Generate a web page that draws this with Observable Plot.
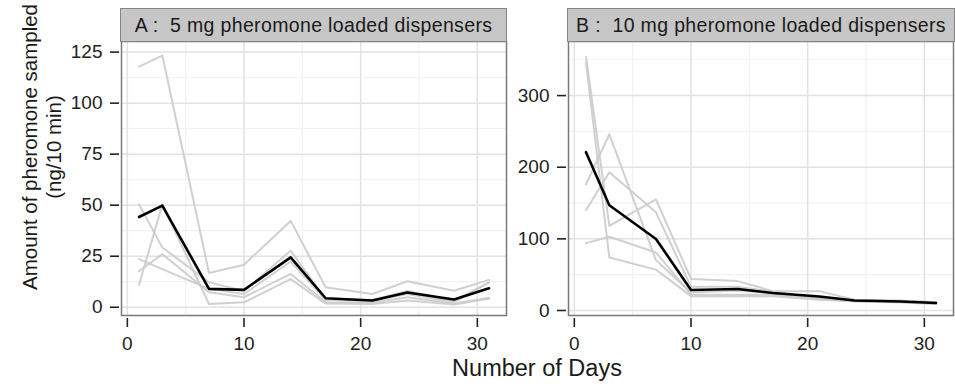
<!DOCTYPE html>
<html><head><meta charset="utf-8">
<script src="https://cdn.jsdelivr.net/npm/d3@7"></script>
<script src="https://cdn.jsdelivr.net/npm/@observablehq/plot@0.6"></script>
<style>
body{margin:0;background:#fff;}
#wrap{position:relative;width:955px;height:386px;overflow:hidden;font-family:"Liberation Sans",Arial,sans-serif;color:#1a1a1a;}
.panel{position:absolute;top:0;}
.strip{position:absolute;top:8px;height:34px;background:#c6c6c6;border:1.5px solid #858585;box-sizing:border-box;display:flex;align-items:center;justify-content:center;font-size:19.5px;letter-spacing:0.35px;color:#1a1a1a;white-space:pre;}
.ytitle{position:absolute;left:42px;top:147px;transform:translate(-50%,-50%) rotate(-90deg);text-align:center;font-size:20.5px;line-height:24px;white-space:nowrap;color:#1a1a1a;}
.xtitle{position:absolute;left:537px;top:368px;transform:translate(-50%,-50%);font-size:23.5px;white-space:nowrap;color:#1a1a1a;}
</style></head>
<body><div id="wrap"></div>
<script>
const days = [1, 3, 7, 10, 14, 17, 21, 24, 28, 31];

// Panel A: 5 mg dispensers (replicates + mean)
const a1 = [117.9, 123.3, 16.8, 20.8, 42.3, 9.8, 6.5, 12.7, 8.1, 13.4];
const a2 = [50.4, 29.3, 12.2, 8.0, 27.7, 4.0, 3.5, 8.0, 3.2, 12.2];
const a3 = [23.6, 18.7, 9.0, 6.5, 22.4, 3.5, 3.0, 6.5, 2.5, 12.0];
const a4 = [17.6, 26.0, 7.3, 4.9, 16.3, 2.5, 2.2, 4.9, 1.8, 4.6];
const a5 = [10.9, 50.4, 1.6, 2.4, 13.8, 1.8, 1.6, 3.3, 1.3, 4.1];
const aMean = [44.2, 49.8, 9.0, 8.5, 24.4, 4.4, 3.3, 7.2, 3.8, 9.3];

// Panel B: 10 mg dispensers (replicates + mean)
const b1 = [354, 118, 155, 44, 41, 27, 27, 15, 14, 12];
const b2 = [346, 74, 57, 20, 20, 20, 15, 13, 11, 9];
const b3 = [176, 246, 70, 25, 28, 24, 18, 14, 13, 11];
const b4 = [140, 193, 137, 33, 33, 26, 17, 14, 12, 10];
const b5 = [94, 103, 81, 22, 22, 22, 16, 13, 12, 10];
const bMean = [221, 147, 99.7, 28.7, 30, 24.5, 19.5, 14, 12.5, 10.5];

const titleA = "A :  5 mg pheromone loaded dispensers";
const titleB = "B :  10 mg pheromone loaded dispensers";
const xTicks = [0, 10, 20, 30];
const xMinor = [5, 15, 25];
const yTicksA = [0, 25, 50, 75, 100, 125];
const yMinorA = [12.5, 37.5, 62.5, 87.5, 112.5];
const yTicksB = [0, 100, 200, 300];
const yMinorB = [50, 150, 250, 350];
const xLabel = "Number of Days";
const yLabel1 = "Amount of pheromone sampled";
const yLabel2 = "(ng/10 min)";

function tidy(reps) {
  const rows = [];
  reps.forEach((arr, r) => arr.forEach((v, i) => rows.push({rep: r, day: days[i], v})));
  return rows;
}
function meanRows(arr) { return arr.map((v, i) => ({day: days[i], v})); }

function panel(opts) {
  return Plot.plot({
    width: opts.width, height: 360,
    marginLeft: opts.ml, marginRight: opts.mr, marginTop: 41, marginBottom: 45,
    style: {fontFamily: '"Liberation Sans", Arial, sans-serif', fontSize: "19px", color: "#1a1a1a", background: "transparent"},
    x: {domain: [-0.5, 32.5], label: null},
    y: {domain: opts.ydom, label: null},
    marks: [
      Plot.gridX(xMinor, {stroke: "#f2f2f2", strokeOpacity: 1, strokeWidth: 1.2}),
      Plot.gridY(opts.yMinor, {stroke: "#f2f2f2", strokeOpacity: 1, strokeWidth: 1.2}),
      Plot.gridX(xTicks, {stroke: "#e2e2e2", strokeOpacity: 1, strokeWidth: 1.5}),
      Plot.gridY(opts.yTicks, {stroke: "#e2e2e2", strokeOpacity: 1, strokeWidth: 1.5}),
      Plot.axisX({ticks: xTicks, tickSize: 9, tickPadding: 9, dy: 3, stroke: "#222", strokeWidth: 1.6, fill: "#222", label: null}),
      Plot.axisY({ticks: opts.yTicks, tickSize: 9, tickPadding: 8, dx: -2, stroke: "#222", strokeWidth: 1.6, fill: "#222", label: null}),
      Plot.line(tidy(opts.reps), {x: "day", y: "v", z: "rep", stroke: "#cbcbcb", strokeWidth: 2, strokeOpacity: 0.9}),
      Plot.line(meanRows(opts.mean), {x: "day", y: "v", stroke: "#000", strokeWidth: 2.6}),
      Plot.frame({stroke: "#7a7a7a", strokeWidth: 1.5})
    ]
  });
}

const wrap = document.getElementById("wrap");
const pA = panel({width: 510, ml: 121, mr: 4, ydom: [-4.05, 130.2], yTicks: yTicksA, yMinor: yMinorA, reps: [a1, a2, a3, a4, a5], mean: aMean});
pA.classList.add("panel"); pA.style.left = "0px";
wrap.appendChild(pA);
const pB = panel({width: 450, ml: 63, mr: 2, ydom: [-7, 375.5], yTicks: yTicksB, yMinor: yMinorB, reps: [b1, b2, b3, b4, b5], mean: bMean});
pB.classList.add("panel"); pB.style.left = "505px";
wrap.appendChild(pB);

function addDiv(cls, text, style) {
  const d = document.createElement("div");
  d.className = cls; d.textContent = text;
  Object.assign(d.style, style || {});
  wrap.appendChild(d);
  return d;
}
addDiv("strip", titleA, {left: "120px", width: "387px"});
addDiv("strip", titleB, {left: "567px", width: "388px"});
const yt = document.createElement("div");
yt.className = "ytitle";
const l1 = document.createElement("div"); l1.textContent = yLabel1;
const l2 = document.createElement("div"); l2.textContent = yLabel2;
yt.appendChild(l1); yt.appendChild(l2);
wrap.appendChild(yt);
addDiv("xtitle", xLabel);
</script>
</body></html>
